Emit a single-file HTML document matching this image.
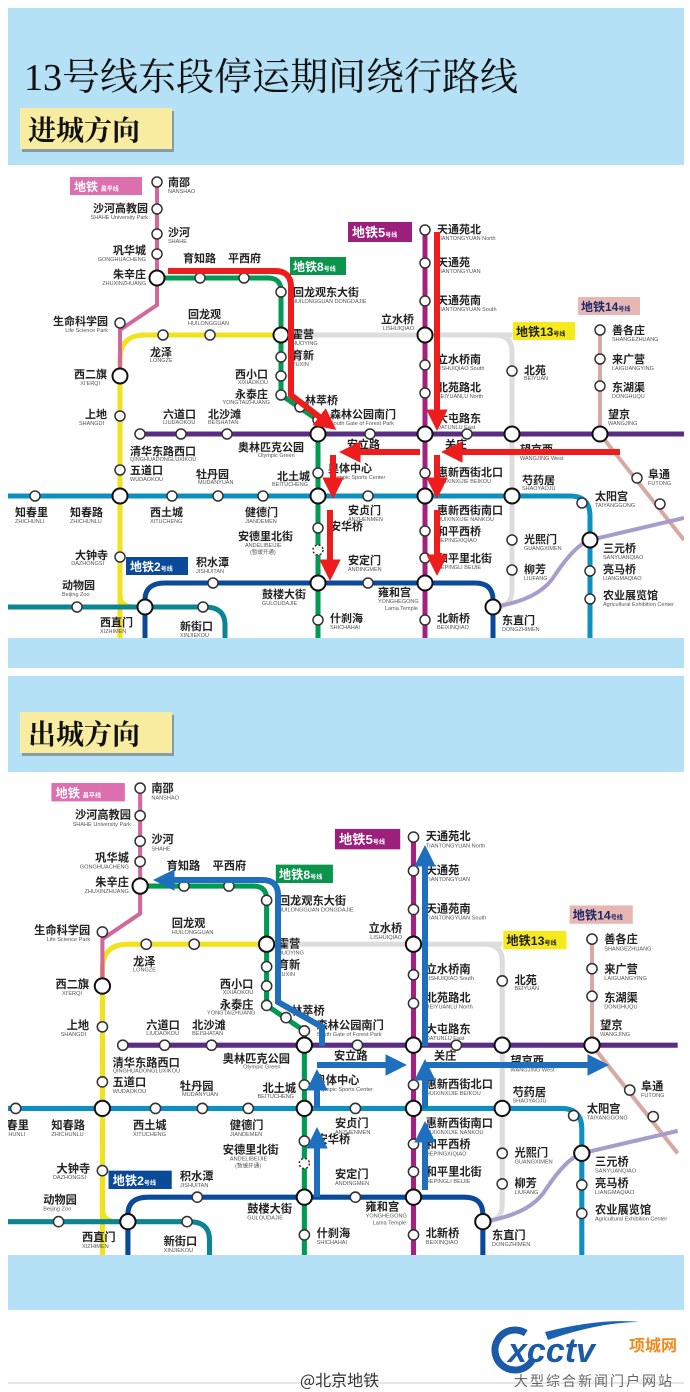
<!DOCTYPE html>
<html><head><meta charset="utf-8"><style>
html,body{margin:0;padding:0;background:#fff;width:690px;height:1392px;overflow:hidden}
svg{display:block}
.cn{font-family:"Liberation Sans","Noto Sans CJK SC",sans-serif;font-size:11px;font-weight:bold;fill:#222}
.en{font-family:"Liberation Sans",sans-serif;font-size:5.5px;fill:#555}
.st{fill:#fff;stroke:#333;stroke-width:1.5}
.tr{fill:#fff;stroke:#111;stroke-width:2}
</style></head><body>
<svg width="690" height="1392" viewBox="0 0 690 1392" xmlns="http://www.w3.org/2000/svg">
<defs>
<clipPath id="c1"><rect x="8" y="165" width="676" height="473"/></clipPath>
<clipPath id="c2"><rect x="8" y="772" width="676" height="483"/></clipPath>
<marker id="ar" viewBox="0 0 10 10" refX="4" refY="5" markerWidth="3.6" markerHeight="3.6" orient="auto" markerUnits="strokeWidth"><path d="M0,0 L10,5 L0,10 z" fill="#ee1c1c"/></marker>
<marker id="ab" viewBox="0 0 10 10" refX="4" refY="5" markerWidth="3.6" markerHeight="3.6" orient="auto" markerUnits="strokeWidth"><path d="M0,0 L10,5 L0,10 z" fill="#1f6fbf"/></marker>
</defs>
<rect x="8" y="8" width="676" height="660" fill="#b5e1f6"/>
<rect x="8" y="676" width="676" height="634" fill="#b5e1f6"/>
<rect x="8" y="165" width="676" height="473" fill="#fff"/>
<rect x="8" y="772" width="676" height="483" fill="#fff"/>
<text x="24" y="90" style="font-family:'Liberation Serif','Noto Serif CJK SC',serif;font-size:38px;fill:#111">13号线东段停运期间绕行路线</text>
<rect x="22" y="111" width="152" height="41" fill="#555" opacity="0.5"/>
<rect x="20" y="108" width="152" height="41" fill="#f7eca0"/>
<text x="28" y="140" style="font-family:'Noto Serif CJK SC',serif;font-size:28px;font-weight:bold;fill:#111">进城方向</text>
<rect x="22" y="715" width="152" height="41" fill="#555" opacity="0.5"/>
<rect x="20" y="712" width="152" height="41" fill="#f7eca0"/>
<text x="28" y="744" style="font-family:'Noto Serif CJK SC',serif;font-size:28px;font-weight:bold;fill:#111">出城方向</text>

<g clip-path="url(#c1)"><g id="map">
<path d="M512,335 H495 Q512,335 512,352 V590 Q512,607 495,607" fill="none" stroke="#dddddd" stroke-width="5"/>
<path d="M281,335 H495 Q512,335 512,352" fill="none" stroke="#dddddd" stroke-width="5"/>
<path d="M120,640 V360 Q120,335 145,335 H281" fill="none" stroke="#f2e21c" stroke-width="5"/>
<path d="M120,560 V595 Q120,607 135,607" fill="none" stroke="#f2e21c" stroke-width="5"/>
<path d="M157,182 V305 L120,330 V376" fill="none" stroke="#d2679e" stroke-width="4"/>
<path d="M157,278 H268 Q281,278 281,291 V395 L318,420 V640" fill="none" stroke="#009a52" stroke-width="5"/>
<path d="M8,496 H570 Q590,496 590,516 V640" fill="none" stroke="#0d8fc2" stroke-width="5"/>
<path d="M140,434 H684" fill="none" stroke="#5b2c83" stroke-width="5"/>
<path d="M425,225 V640" fill="none" stroke="#a6217f" stroke-width="5"/>
<path d="M145,640 V600 Q145,583 165,583 H475 Q493,583 493,600 V640" fill="none" stroke="#0b4a98" stroke-width="5"/>
<path d="M8,607 H205 Q225,607 225,625 V640" fill="none" stroke="#0a8591" stroke-width="5"/>
<path d="M600,330 V434 L684,540" fill="none" stroke="#d8a9a2" stroke-width="4"/>
<path d="M493,607 Q540,600 555,575 Q575,545 590,540 L684,518" fill="none" stroke="#a79ccc" stroke-width="4"/>
<g class="st">
<circle cx="157" cy="182" r="5"/><circle cx="157" cy="209" r="5"/><circle cx="157" cy="234" r="5"/><circle cx="157" cy="254" r="5"/><circle cx="120" cy="323" r="5"/>
<circle cx="200" cy="278" r="5"/><circle cx="244" cy="278" r="5"/><circle cx="281" cy="292" r="5"/><circle cx="281" cy="357" r="5"/><circle cx="281" cy="376" r="5"/><circle cx="281" cy="395" r="5"/><circle cx="300" cy="407" r="5"/><circle cx="318" cy="420" r="5"/>
<circle cx="318" cy="473" r="5"/><circle cx="318" cy="528" r="5"/><circle cx="318" cy="550" r="5" stroke-dasharray="2 2"/><circle cx="318" cy="620" r="5"/>
<circle cx="163" cy="335" r="5"/><circle cx="210" cy="335" r="5"/><circle cx="120" cy="416" r="5"/><circle cx="120" cy="470" r="5"/><circle cx="120" cy="557" r="5"/>
<circle cx="35" cy="496" r="5"/><circle cx="172" cy="496" r="5"/><circle cx="218" cy="496" r="5"/><circle cx="263" cy="496" r="5"/><circle cx="368" cy="496" r="5"/><circle cx="582" cy="503" r="5"/><circle cx="590" cy="571" r="5"/><circle cx="590" cy="599" r="5"/>
<circle cx="140" cy="434" r="5"/><circle cx="181" cy="434" r="5"/><circle cx="227" cy="434" r="5"/><circle cx="370" cy="434" r="5"/><circle cx="467" cy="434" r="5"/>
<circle cx="425" cy="230" r="5"/><circle cx="425" cy="263" r="5"/><circle cx="425" cy="301" r="5"/><circle cx="425" cy="365" r="5"/><circle cx="425" cy="393" r="5"/><circle cx="425" cy="473" r="5"/><circle cx="425" cy="531" r="5"/><circle cx="425" cy="558" r="5"/><circle cx="425" cy="620" r="5"/>
<circle cx="213" cy="583" r="5"/><circle cx="368" cy="583" r="5"/><circle cx="77" cy="607" r="5"/><circle cx="203" cy="607" r="5"/>
<circle cx="600" cy="330" r="5"/><circle cx="600" cy="359" r="5"/><circle cx="600" cy="386" r="5"/><circle cx="637" cy="478" r="5"/><circle cx="660" cy="504" r="5"/>
<circle cx="512" cy="371" r="5"/><circle cx="512" cy="540" r="5"/><circle cx="512" cy="570" r="5"/>
</g>
<g class="tr">
<circle cx="157" cy="278" r="7.5"/><circle cx="281" cy="335" r="7.5"/><circle cx="120" cy="376" r="7.5"/><circle cx="120" cy="496" r="7.5"/><circle cx="145" cy="607" r="7.5"/>
<circle cx="318" cy="434" r="7.5"/><circle cx="318" cy="496" r="7.5"/><circle cx="318" cy="583" r="7.5"/>
<circle cx="425" cy="335" r="7.5"/><circle cx="425" cy="434" r="7.5"/><circle cx="425" cy="496" r="7.5"/><circle cx="425" cy="583" r="7.5"/>
<circle cx="512" cy="434" r="7.5"/><circle cx="512" cy="496" r="7.5"/><circle cx="600" cy="434" r="7.5"/><circle cx="590" cy="540" r="7.5"/><circle cx="493" cy="607" r="7.5"/>
</g>
<rect x="70" y="177" width="72" height="18" fill="#dc6fae"/><text x="74" y="191" style="font-family:'Noto Sans CJK SC',sans-serif;font-size:12px;font-weight:bold;fill:#fff">地铁 <tspan font-size="6">昌平线</tspan></text>
<rect x="348" y="222" width="64" height="20" fill="#9c1f7c"/><text x="352" y="237" style="font-family:'Liberation Sans','Noto Sans CJK SC',sans-serif;font-size:13px;font-weight:bold;fill:#fff">地铁5<tspan font-size="6">号线</tspan></text>
<rect x="290" y="257" width="56" height="18" fill="#0a944c"/><text x="293" y="271" style="font-family:'Liberation Sans','Noto Sans CJK SC',sans-serif;font-size:12px;font-weight:bold;fill:#fff">地铁8<tspan font-size="6">号线</tspan></text>
<rect x="578" y="297" width="62" height="18" fill="#e9b7b3"/><text x="581" y="311" style="font-family:'Liberation Sans','Noto Sans CJK SC',sans-serif;font-size:12px;font-weight:bold;fill:#1b2a6b">地铁14<tspan font-size="6">号线</tspan></text>
<rect x="513" y="322" width="62" height="18" fill="#f6ea1c"/><text x="516" y="336" style="font-family:'Liberation Sans','Noto Sans CJK SC',sans-serif;font-size:12px;font-weight:bold;fill:#222">地铁13<tspan font-size="6">号线</tspan></text>
<rect x="126" y="557" width="62" height="18" fill="#0b4a98"/><text x="130" y="571" style="font-family:'Liberation Sans','Noto Sans CJK SC',sans-serif;font-size:12px;font-weight:bold;fill:#fff">地铁2<tspan font-size="6">号线</tspan></text>
<g class="cn">
<text x="168" y="186">南邵</text><text x="148" y="212" text-anchor="end">沙河高教园</text><text x="168" y="236">沙河</text><text x="146" y="254" text-anchor="end">巩华城</text><text x="146" y="278" text-anchor="end">朱辛庄</text>
<text x="108" y="325" text-anchor="end">生命科学园</text><text x="107" y="378" text-anchor="end">西二旗</text><text x="107" y="418" text-anchor="end">上地</text>
<text x="130" y="455">清华东路西口</text><text x="130" y="474">五道口</text><text x="15" y="516">知春里</text><text x="70" y="516">知春路</text><text x="150" y="516">西土城</text><text x="245" y="516">健德门</text>
<text x="108" y="559" text-anchor="end">大钟寺</text><text x="196" y="566">积水潭</text><text x="62" y="589">动物园</text><text x="100" y="626">西直门</text><text x="180" y="630">新街口</text>
<text x="183" y="262">育知路</text><text x="228" y="262">平西府</text><text x="293" y="296">回龙观东大街</text><text x="188" y="318">回龙观</text><text x="150" y="356">龙泽</text>
<text x="292" y="338">霍营</text><text x="292" y="359">育新</text><text x="268" y="378" text-anchor="end">西小口</text><text x="268" y="398" text-anchor="end">永泰庄</text>
<text x="163" y="418">六道口</text><text x="208" y="418">北沙滩</text><text x="305" y="404">林萃桥</text><text x="330" y="418">森林公园南门</text>
<text x="238" y="451">奥林匹克公园</text><text x="196" y="478">牡丹园</text><text x="277" y="480">北土城</text><text x="328" y="472">奥体中心</text>
<text x="238" y="540">安德里北街</text><text x="330" y="530">安华桥</text><text x="262" y="598">鼓楼大街</text><text x="330" y="622">什刹海</text>
<text x="348" y="514">安贞门</text><text x="347" y="448">安立路</text><text x="348" y="564">安定门</text><text x="378" y="596">雍和宫</text><text x="437" y="622">北新桥</text><text x="502" y="624">东直门</text>
<text x="437" y="233">天通苑北</text><text x="437" y="266">天通苑</text><text x="437" y="304">天通苑南</text><text x="414" y="323" text-anchor="end">立水桥</text>
<text x="437" y="363">立水桥南</text><text x="437" y="391">北苑路北</text><text x="437" y="422">大屯路东</text><text x="445" y="448">关庄</text>
<text x="437" y="476">惠新西街北口</text><text x="437" y="514">惠新西街南口</text><text x="437" y="535">和平西桥</text><text x="437" y="562">和平里北街</text>
<text x="524" y="374">北苑</text><text x="520" y="453">望京西</text><text x="522" y="484">芍药居</text><text x="524" y="543">光熙门</text><text x="524" y="573">柳芳</text>
<text x="608" y="418">望京</text><text x="612" y="334">善各庄</text><text x="612" y="363">来广营</text><text x="612" y="391">东湖渠</text><text x="648" y="478">阜通</text><text x="595" y="500">太阳宫</text><text x="603" y="552">三元桥</text><text x="603" y="573">亮马桥</text><text x="603" y="599">农业展览馆</text>
</g>
<g class="en">
<text x="168" y="193">NANSHAO</text><text x="148" y="219" text-anchor="end">SHAHE University Park</text><text x="168" y="243">SHAHE</text><text x="146" y="261" text-anchor="end">GONGHUACHENG</text><text x="146" y="285" text-anchor="end">ZHUXINZHUANG</text>
<text x="108" y="332" text-anchor="end">Life Science Park</text><text x="100" y="385" text-anchor="end">XI'ERQI</text><text x="104" y="425" text-anchor="end">SHANGDI</text>
<text x="130" y="461">QINGHUADONGLUXIKOU</text><text x="130" y="481">WUDAOKOU</text><text x="15" y="523">ZHICHUNLI</text><text x="70" y="523">ZHICHUNLU</text><text x="150" y="523">XITUCHENG</text><text x="245" y="523">JIANDEMEN</text>
<text x="104" y="565" text-anchor="end">DAZHONGSI</text><text x="196" y="573">JISHUITAN</text><text x="62" y="596">Beijing Zoo</text><text x="100" y="633">XIZHIMEN</text><text x="180" y="637">XINJIEKOU</text>
<text x="292" y="303">HUILONGGUAN DONGDAJIE</text><text x="188" y="325">HUILONGGUAN</text><text x="150" y="362">LONGZE</text><text x="292" y="345">HUOYING</text><text x="292" y="366">YUXIN</text>
<text x="268" y="384" text-anchor="end">XIXIAOKOU</text><text x="270" y="404" text-anchor="end">YONGTAIZHUANG</text><text x="163" y="424">LIUDAOKOU</text><text x="208" y="424">BEISHATAN</text>
<text x="330" y="425">South Gate of Forest Park</text><text x="258" y="457">Olympic Green</text><text x="198" y="484">MUDANYUAN</text><text x="272" y="486">BEITUCHENG</text><text x="330" y="479">Olympic Sports Center</text>
<text x="245" y="547">ANDELIBEIJIE</text><text x="250" y="554">(暂缓开通)</text><text x="262" y="605">GULOUDAJIE</text><text x="330" y="629">SHICHAHAI</text><text x="348" y="521">ANZHENMEN</text><text x="348" y="571">ANDINGMEN</text>
<text x="378" y="603">YONGHEGONG</text><text x="385" y="610">Lama Temple</text><text x="437" y="629">BEIXINQIAO</text><text x="502" y="631">DONGZHIMEN</text>
<text x="437" y="240">TIANTONGYUAN North</text><text x="437" y="273">TIANTONGYUAN</text><text x="437" y="311">TIANTONGYUAN South</text><text x="414" y="330" text-anchor="end">LISHUIQIAO</text>
<text x="437" y="370">LISHUIQIAO South</text><text x="437" y="398">BEIYUANLU North</text><text x="437" y="429">DATUNLU East</text><text x="437" y="483">HUIXINXIJIE BEIKOU</text><text x="437" y="521">HUIXINXIJIE NANKOU</text>
<text x="437" y="542">HEPINGXIQIAO</text><text x="437" y="569">HEPINGLI BEIJIE</text><text x="524" y="380">BEIYUAN</text><text x="520" y="460">WANGJING West</text><text x="522" y="490">SHAOYAOJU</text>
<text x="524" y="550">GUANGXIMEN</text><text x="524" y="580">LIUFANG</text><text x="608" y="425">WANGJING</text><text x="612" y="341">SHANGEZHUANG</text><text x="612" y="370">LAIGUANGYING</text><text x="612" y="398">DONGHUQU</text>
<text x="648" y="485">FUTONG</text><text x="595" y="507">TAIYANGGONG</text><text x="603" y="559">SANYUANQIAO</text><text x="603" y="580">LIANGMAQIAO</text><text x="603" y="606">Agricultural Exhibition Center</text>
</g>
</g>
<g fill="none" stroke="#ee1c1c" stroke-width="6">
<path d="M168,271 H275 Q291,271 291,287 V395 L326,422" marker-end="url(#ar)"/>
<path d="M437,232 V418" marker-end="url(#ar)"/>
<path d="M620,452 H454" marker-end="url(#ar)"/>
<path d="M420,452 H352" marker-end="url(#ar)"/>
<path d="M333,455 V486" marker-end="url(#ar)"/>
<path d="M437,455 V486" marker-end="url(#ar)"/>
<path d="M330,510 V568" marker-end="url(#ar)"/>
<path d="M437,510 V563" marker-end="url(#ar)"/>
</g>
</g>

<g clip-path="url(#c2)">
<use href="#map" transform="translate(-20,602.5) scale(1.02)"/>
<g fill="none" stroke="#1f6fbf" stroke-width="6">
<path d="M322,1046 V1027 L278,1002 V895 Q278,880 262,880 H166" marker-end="url(#ab)"/>
<path d="M425,1046 V858" marker-end="url(#ab)"/>
<path d="M317,1197 V1140" marker-end="url(#ab)"/>
<path d="M317,1108 V1082" marker-end="url(#ab)"/>
<path d="M317,1065 H394" marker-end="url(#ab)"/>
<path d="M425,1190 V1134" marker-end="url(#ab)"/>
<path d="M425,1108 V1072" marker-end="url(#ab)"/>
<path d="M425,1065 H596" marker-end="url(#ab)"/>
</g>
</g>

<line x1="8" y1="1383" x2="684" y2="1383" stroke="#ccc"/>
<text x="300" y="1386" style="font-family:'Noto Sans CJK SC',sans-serif;font-size:16px;fill:#333">@北京地铁</text>
<path d="M545,1332 Q600,1318 640,1322 Q600,1322 548,1340 z" fill="#1a62b0"/>
<circle cx="515" cy="1350" r="20" fill="none" stroke="#1a5aa8" stroke-width="7" stroke-dasharray="95 40" transform="rotate(30 515 1350)"/>
<text x="508" y="1362" style="font-family:'Liberation Sans',sans-serif;font-size:34px;font-weight:bold;font-style:italic;fill:#1a5aa8">xcctv</text>
<text x="629" y="1351" style="font-family:'Noto Sans CJK SC',sans-serif;font-size:16px;font-weight:bold;fill:#f08a1c">项城网</text>
<text x="514" y="1386" style="font-family:'Noto Sans CJK SC',sans-serif;font-size:14px;fill:#666;letter-spacing:2px">大型综合新闻门户网站</text>
</svg>
</body></html>
